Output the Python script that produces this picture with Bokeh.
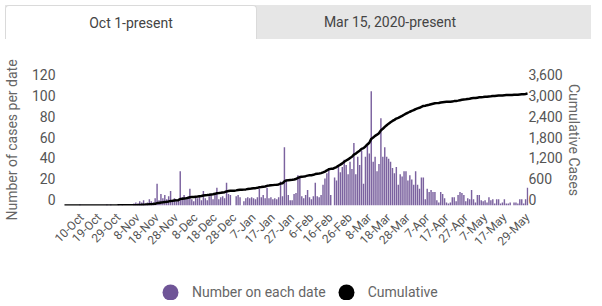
import numpy as np
from bokeh.plotting import figure
from bokeh.models import (Range1d, LinearAxis, FixedTicker, NumeralTickFormatter,
                          ColumnDataSource, Legend, LegendItem, Div)
from bokeh.layouts import column
from bokeh.embed import file_html
from bokeh.resources import INLINE

# ---- data ----
tab_labels = ["Oct 1-present", "Mar 15, 2020-present"]
series_names = ["Number on each date", "Cumulative"]

# daily cases, one value per day starting 1-Oct
daily_cases = [
    0, 0, 0, 0, 0, 0, 0, 0, 1, 0, 0, 0, 0, 0, 0, 0, 0, 0, 0, 0, 0, 0,
    1, 0, 1, 0, 0, 0, 1, 0, 1, 0, 0, 0, 0, 0,
    2, 3, 2, 4, 3, 5, 2, 3, 6, 4, 3,
    7, 21, 5, 11, 7, 10, 6, 9, 14, 5, 7, 4, 6,
    33, 8, 10, 6, 9, 16, 6, 4, 8, 7,
    9, 5, 14, 7, 5, 9, 10, 6, 11, 17,
    6, 8, 9, 7, 22, 11, 10, 0, 0, 9, 10, 8, 0,
    4, 7, 8, 7, 8, 7, 6, 8, 16, 8, 10, 7, 17, 7, 8, 6, 7,
    6, 8, 23, 9, 56, 25, 10, 5, 5, 11,
    12, 29, 27, 9, 7, 10, 15, 8, 6, 9,
    22, 9, 8, 10, 20, 26, 31, 36, 10, 0,
    27, 24, 39, 32, 37, 44, 39, 30, 42, 35,
    60, 30, 47, 39, 53, 21, 47, 58, 50, 110,
    42, 47, 33, 40, 84, 47, 56, 47, 45, 42,
    36, 31, 37, 20, 30, 28, 33, 33, 24, 29,
    25, 20, 33, 20, 16, 27, 27, 6, 16, 13,
    15, 13, 13, 5, 3, 13, 11, 7, 3, 2,
    3, 8, 8, 4, 10, 13, 12, 10, 4, 7,
    6, 15, 6, 3, 10, 10, 5, 4, 5, 3,
    8, 5, 6, 2, 6, 6, 2, 3, 6, 2,
    2, 3, 0, 3, 3, 2, 6, 6, 2, 6, 17,
]

tick_days = [9, 18, 28, 38, 48, 58, 68, 78, 88, 98, 108, 118, 128, 138, 148,
             158, 168, 178, 188, 198, 208, 218, 228, 240]
tick_labels = ["10-Oct", "19-Oct", "29-Oct", "8-Nov", "18-Nov", "28-Nov", "8-Dec",
               "18-Dec", "28-Dec", "7-Jan", "17-Jan", "27-Jan", "6-Feb", "16-Feb",
               "26-Feb", "8-Mar", "18-Mar", "28-Mar", "7-Apr", "17-Apr", "27-Apr",
               "7-May", "17-May", "29-May"]
left_ticks = [0, 20, 40, 60, 80, 100, 120]
right_ticks = [0, 600, 1200, 1800, 2400, 3000, 3600]

days = list(range(len(daily_cases)))
cumulative = np.cumsum(daily_cases).tolist()
src = ColumnDataSource(dict(day=days, cases=daily_cases, cum=cumulative))

FONT = "Roboto"
BAR = "#7b629f"

# ---- tabs header ----
tabs_html = f"""
<div style="position:relative;width:586px;height:34px;background:#e6e6e6;
            font-family:Roboto, sans-serif;font-size:14px;color:#444;">
  <div style="position:absolute;left:0;top:0;width:252px;height:34px;background:#ffffff;
              border:1px solid #dadada;border-bottom:none;border-radius:4px 4px 0 0;
              box-sizing:border-box;text-align:center;line-height:34px;">{tab_labels[0]}</div>
  <div style="position:absolute;left:252px;top:0;width:266px;height:34px;
              text-align:center;line-height:34px;">{tab_labels[1]}</div>
</div>
"""
tabs = Div(text=tabs_html, width=586, height=34)

# ---- chart ----
p = figure(width=586, height=230, x_range=Range1d(-0.5, 240.5), y_range=Range1d(0, 126),
           output_backend="svg", toolbar_location=None, y_axis_location=None,
           min_border_left=58, min_border_right=58, min_border_top=30, min_border_bottom=69)
p.outline_line_color = None
p.grid.visible = False
p.extra_y_ranges = {"ylab": Range1d(-5.77, 120.23),
                    "cum": Range1d(0, 3780),
                    "cumlab": Range1d(-173, 3607)}

p.vbar(x="day", top="cases", width=0.75, source=src, fill_color=BAR, line_color=None)
p.line(x="day", y="cum", source=src, y_range_name="cum", line_color="black", line_width=2.5)

def style_axis(ax, size="14px", color="#555"):
    ax.axis_line_color = None
    ax.major_tick_line_color = None
    ax.minor_tick_line_color = None
    ax.major_tick_out = 0
    ax.major_label_text_font = FONT
    ax.major_label_text_font_size = size
    ax.major_label_text_color = color
    ax.axis_label_text_font = FONT
    ax.axis_label_text_font_size = "14px"
    ax.axis_label_text_font_style = "normal"
    ax.axis_label_text_color = "#666"

xa = p.xaxis[0]
xa.ticker = FixedTicker(ticks=tick_days)
xa.major_label_overrides = {d: l for d, l in zip(tick_days, tick_labels)}
xa.major_label_orientation = np.pi / 4
style_axis(xa, size="12px")
xa.major_label_standoff = 10

ly = LinearAxis(y_range_name="ylab", ticker=FixedTicker(ticks=left_ticks),
                axis_label="Number of cases per date")
style_axis(ly)
ly.major_label_text_align = "left"
ly.major_label_standoff = 8
ly.axis_label_standoff = 9
p.add_layout(ly, "left")

ry = LinearAxis(y_range_name="cumlab", ticker=FixedTicker(ticks=right_ticks),
                formatter=NumeralTickFormatter(format="0,0"), axis_label="Cumulative Cases")
style_axis(ry)
ry.major_label_text_align = "right"
ry.major_label_standoff = 0
ry.axis_label_standoff = 0
p.add_layout(ry, "right")

# ---- legend row ----
lf = figure(width=586, height=26, x_range=Range1d(0, 1), y_range=Range1d(0, 1),
            output_backend="svg", toolbar_location=None, x_axis_location=None,
            y_axis_location=None, min_border=0)
lf.outline_line_color = None
lf.grid.visible = False
r1 = lf.scatter(x=[-5], y=[-5], marker="circle", fill_color="#6f5597", line_color=None)
r2 = lf.scatter(x=[-5], y=[-5], marker="circle", fill_color="#000000", line_color=None)
legend = Legend(items=[LegendItem(label=series_names[0], renderers=[r1]),
                       LegendItem(label=series_names[1], renderers=[r2])],
                location=(87, -12), orientation="horizontal",
                glyph_width=40, glyph_height=40, label_standoff=2, spacing=-6,
                padding=0, margin=0, border_line_color=None, background_fill_alpha=0,
                label_text_font=FONT, label_text_font_size="14px", label_text_color="#666")
lf.add_layout(legend)

layout = column(tabs, p, lf)
open("out.html", "w").write(file_html(layout, INLINE))
